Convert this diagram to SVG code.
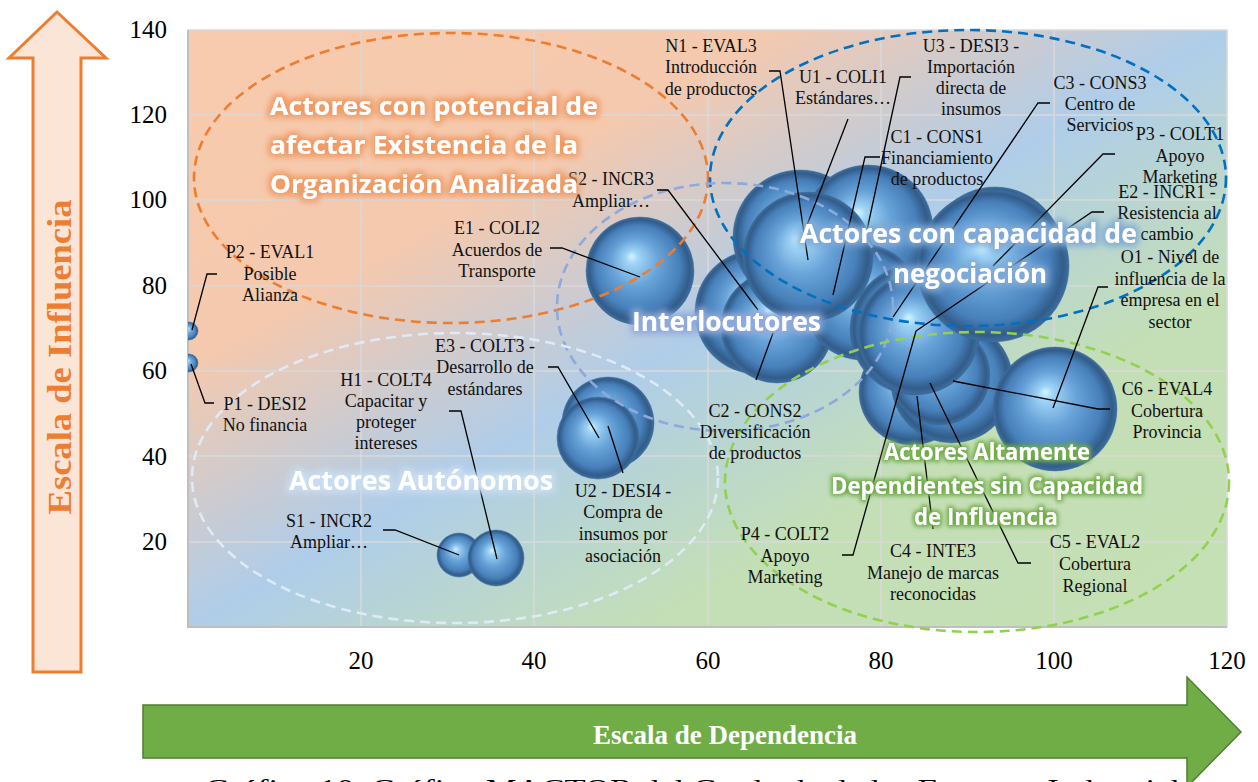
<svg xmlns="http://www.w3.org/2000/svg" width="1258" height="782" viewBox="0 0 1258 782">
<defs>
  <linearGradient id="bg" x1="0" y1="0" x2="1" y2="1">
    <stop offset="0" stop-color="#F8CBAD"/>
    <stop offset="0.28" stop-color="#F5C9AE"/>
    <stop offset="0.5" stop-color="#AFCDE9"/>
    <stop offset="0.72" stop-color="#C4DFB6"/>
    <stop offset="1" stop-color="#C5E0B4"/>
  </linearGradient>
  <radialGradient id="sph" cx="0.5" cy="0.5" r="0.5" fx="0.42" fy="0.36">
    <stop offset="0" stop-color="#D2F5FF"/>
    <stop offset="0.12" stop-color="#9FD4F6"/>
    <stop offset="0.45" stop-color="#66A1D7"/>
    <stop offset="0.78" stop-color="#4780BA"/>
    <stop offset="0.93" stop-color="#325C8A"/>
    <stop offset="1" stop-color="#3D6E9E"/>
  </radialGradient>
  <clipPath id="plot"><rect x="188" y="30" width="1039" height="597"/></clipPath>
  <filter id="glowO" x="-20%" y="-50%" width="140%" height="200%">
    <feMorphology in="SourceAlpha" operator="dilate" radius="2.5" result="d"/>
    <feGaussianBlur in="d" stdDeviation="3" result="b"/>
    <feFlood flood-color="#F09A62"/>
    <feComposite in2="b" operator="in" result="g"/>
    <feMerge><feMergeNode in="g"/><feMergeNode in="SourceGraphic"/></feMerge>
  </filter>
  <filter id="glowB" x="-20%" y="-50%" width="140%" height="200%">
    <feMorphology in="SourceAlpha" operator="dilate" radius="2.5" result="d"/>
    <feGaussianBlur in="d" stdDeviation="3.5" result="b"/>
    <feFlood flood-color="#7FA9D6"/>
    <feComposite in2="b" operator="in" result="g"/>
    <feMerge><feMergeNode in="g"/><feMergeNode in="SourceGraphic"/></feMerge>
  </filter>
  <filter id="glowL" x="-20%" y="-50%" width="140%" height="200%">
    <feMorphology in="SourceAlpha" operator="dilate" radius="2.5" result="d"/>
    <feGaussianBlur in="d" stdDeviation="3" result="b"/>
    <feFlood flood-color="#8EA9DB"/>
    <feComposite in2="b" operator="in" result="g"/>
    <feMerge><feMergeNode in="g"/><feMergeNode in="SourceGraphic"/></feMerge>
  </filter>
  <filter id="glowW" x="-20%" y="-50%" width="140%" height="200%">
    <feMorphology in="SourceAlpha" operator="dilate" radius="2.5" result="d"/>
    <feGaussianBlur in="d" stdDeviation="3" result="b"/>
    <feFlood flood-color="#C9DDF0"/>
    <feComposite in2="b" operator="in" result="g"/>
    <feMerge><feMergeNode in="g"/><feMergeNode in="SourceGraphic"/></feMerge>
  </filter>
  <filter id="glowG" x="-20%" y="-50%" width="140%" height="200%">
    <feMorphology in="SourceAlpha" operator="dilate" radius="2" result="d"/>
    <feGaussianBlur in="d" stdDeviation="2" result="b"/>
    <feFlood flood-color="#70AD47"/>
    <feComposite in2="b" operator="in" result="g"/>
    <feMerge><feMergeNode in="g"/><feMergeNode in="SourceGraphic"/></feMerge>
  </filter>
</defs>
<style>
  .grid{stroke:#D9D9D9;stroke-width:1.5;fill:none}
  .axis{stroke:#BFBFBF;stroke-width:2;fill:none}
  .tick{font-family:"Liberation Serif","Times New Roman",serif;font-size:25px;fill:#000}
  .lbl{font-family:"Liberation Serif","Times New Roman",serif;font-size:18px;fill:#111;text-anchor:middle}
  .b{fill:url(#sph);stroke:#3A6A9A;stroke-width:0.8;stroke-opacity:0.6}
  .lead{fill:none;stroke:#000;stroke-width:1.3}
  .ell{fill:none;stroke-width:2.6;stroke-dasharray:10 6}
  .big{font-family:"Open Sans","Noto Sans","Liberation Sans",sans-serif;font-weight:bold;fill:#fff}
  .serifb{font-family:"Liberation Serif","Times New Roman",serif;font-weight:bold}
  .cap{font-family:"Liberation Serif","Times New Roman",serif;font-size:26px;fill:#000}
</style>

<!-- plot background -->
<rect x="188" y="30" width="1039" height="597" fill="url(#bg)"/>
<g id="grid">
  <path class="grid" d="M361 30V627M534 30V627M708 30V627M881 30V627M1054 30V627"/>
  <path class="grid" d="M188 115H1227M188 200H1227M188 286H1227M188 371H1227M188 456H1227M188 542H1227"/>
  <path class="grid" d="M188 30H1227V627"/>
  <path class="axis" d="M188 30V627H1227"/>
</g>
<g id="ticks" class="tick">
  <g text-anchor="end">
    <text x="167" y="38">140</text><text x="167" y="123">120</text><text x="167" y="208">100</text>
    <text x="167" y="294">80</text><text x="167" y="379">60</text><text x="167" y="465">40</text><text x="167" y="550">20</text>
  </g>
  <g text-anchor="middle">
    <text x="361" y="669">20</text><text x="534" y="669">40</text><text x="708" y="669">60</text>
    <text x="881" y="669">80</text><text x="1054" y="669">100</text><text x="1227" y="669">120</text>
  </g>
</g>

<!-- bubbles -->
<g id="bubbles" clip-path="url(#plot)">
  <g id="node-P2"><circle class="b" cx="189" cy="331" r="9"/></g>
  <g id="node-P1"><circle class="b" cx="189" cy="363" r="9"/></g>
  <g id="node-S1"><circle class="b" cx="459" cy="555" r="22"/></g>
  <g id="node-H1"><circle class="b" cx="496" cy="558" r="28"/></g>
  <g id="node-E3"><circle class="b" cx="608" cy="423" r="46"/></g>
  <g id="node-U2"><circle class="b" cx="598" cy="438" r="41"/></g>
  <g id="node-E1"><circle class="b" cx="640" cy="271" r="54"/></g>
  <g id="node-S2"><circle class="b" cx="757" cy="312" r="62"/></g>
  <g id="node-C2"><circle class="b" cx="777" cy="327" r="56"/></g>
  <g id="node-U1"><circle class="b" cx="800" cy="237" r="67"/></g>
  <g id="node-U3"><circle class="b" cx="868" cy="230" r="65"/></g>
  <g id="node-C1"><circle class="b" cx="862" cy="302" r="58"/></g>
  <g id="node-N1"><circle class="b" cx="808" cy="257" r="65"/></g>
  <g id="node-C4"><circle class="b" cx="912" cy="392" r="53"/></g>
  <g id="node-C5"><circle class="b" cx="952" cy="382" r="61"/></g>
  <g id="node-O1"><circle class="b" cx="1055" cy="409" r="62"/></g>
  <g id="node-C6"><circle class="b" cx="940" cy="375" r="50"/></g>
  <g id="node-E2"><circle class="b" cx="995" cy="255" r="68"/></g>
  <g id="node-C3"><circle class="b" cx="915" cy="330" r="65"/></g>
  <g id="node-P4"><circle class="b" cx="918" cy="334" r="60"/></g>
  <g id="node-P3"><circle class="b" cx="993" cy="266" r="76"/></g>
</g>

<!-- group ellipses -->
<g id="zones">
  <ellipse class="ell" cx="451" cy="178" rx="257" ry="145" stroke="#ED7D31"/>
  <ellipse class="ell" cx="968" cy="178" rx="258" ry="148" stroke="#0070C0"/>
  <ellipse class="ell" cx="725" cy="307" rx="168" ry="124" stroke="#8EA9DB"/>
  <ellipse class="ell" cx="455" cy="478" rx="263" ry="145" stroke="#DEEBF7"/>
  <ellipse class="ell" cx="977" cy="482" rx="252" ry="150" stroke="#92D050"/>
</g>

<!-- leader lines -->
<g id="connectors" class="lead">
  <polyline points="217,274 207,274 192,330"/>
  <polyline points="191,364 205,403 214,403"/>
  <polyline points="550,248 562,248 640,277"/>
  <polyline points="657,190 668,190 758,310"/>
  <polyline points="769,71 780,71 808,260"/>
  <polyline points="848,119 802,238"/>
  <polyline points="911,77 900,77 867,230"/>
  <polyline points="880,157 865,157 833,295"/>
  <polyline points="1050,103 1038,103 893,317"/>
  <polyline points="1115,154 1103,154 993,266"/>
  <polyline points="1104,212 1092,212 916,331"/>
  <polyline points="1108,287 1098,287 1053,408"/>
  <polyline points="1110,409 1098,409 953,381"/>
  <polyline points="1031,563 1018,563 930,383"/>
  <polyline points="933,529 917,396"/>
  <polyline points="842,555 853,555 916,331"/>
  <polyline points="756,380 773,333"/>
  <polyline points="548,367 558,367 599,438"/>
  <polyline points="449,411 461,411 497,559"/>
  <polyline points="623,473 608,426"/>
  <polyline points="383,530 395,530 459,555"/>
</g>

<!-- data labels -->
<g id="labels" class="lbl">
  <g id="label-P2"><text x="270" y="258">P2 - EVAL1</text><text x="270" y="280">Posible</text><text x="270" y="301">Alianza</text></g>
  <g id="label-P1"><text x="265" y="410">P1 - DESI2</text><text x="265" y="431">No financia</text></g>
  <g id="label-E1"><text x="497" y="234">E1 - COLI2</text><text x="497" y="256">Acuerdos de</text><text x="497" y="277">Transporte</text></g>
  <g id="label-S2"><text x="611" y="185">S2 - INCR3</text><text x="611" y="207">Ampliar…</text></g>
  <g id="label-N1"><text x="711" y="52">N1 - EVAL3</text><text x="711" y="73">Introducción</text><text x="711" y="95">de productos</text></g>
  <g id="label-U1"><text x="843" y="83">U1 - COLI1</text><text x="843" y="104">Estándares…</text></g>
  <g id="label-U3"><text x="971" y="52">U3 - DESI3 -</text><text x="971" y="73">Importación</text><text x="971" y="94">directa de</text><text x="971" y="115">insumos</text></g>
  <g id="label-C1"><text x="937" y="143">C1 - CONS1</text><text x="937" y="164">Financiamiento</text><text x="937" y="185">de productos</text></g>
  <g id="label-C3"><text x="1100" y="89">C3 - CONS3</text><text x="1100" y="110">Centro de</text><text x="1100" y="131">Servicios</text></g>
  <g id="label-P3"><text x="1180" y="140">P3 - COLT1</text><text x="1180" y="162">Apoyo</text><text x="1180" y="183">Marketing</text></g>
  <g id="label-E2"><text x="1167" y="198">E2 - INCR1 -</text><text x="1167" y="219">Resistencia al</text><text x="1167" y="240">cambio</text></g>
  <g id="label-O1"><text x="1170" y="263">O1 - Nivel de</text><text x="1170" y="285">influencia de la</text><text x="1170" y="306">empresa en el</text><text x="1170" y="328">sector</text></g>
  <g id="label-C6"><text x="1167" y="395">C6 - EVAL4</text><text x="1167" y="417">Cobertura</text><text x="1167" y="438">Provincia</text></g>
  <g id="label-C5"><text x="1095" y="548">C5 - EVAL2</text><text x="1095" y="570">Cobertura</text><text x="1095" y="592">Regional</text></g>
  <g id="label-C4"><text x="933" y="557">C4 - INTE3</text><text x="933" y="579">Manejo de marcas</text><text x="933" y="600">reconocidas</text></g>
  <g id="label-P4"><text x="785" y="540">P4 - COLT2</text><text x="785" y="562">Apoyo</text><text x="785" y="583">Marketing</text></g>
  <g id="label-C2"><text x="755" y="417">C2 - CONS2</text><text x="755" y="438">Diversificación</text><text x="755" y="459">de productos</text></g>
  <g id="label-E3"><text x="485" y="352">E3 - COLT3 -</text><text x="485" y="373">Desarrollo de</text><text x="485" y="395">estándares</text></g>
  <g id="label-H1"><text x="386" y="386">H1 - COLT4</text><text x="386" y="407">Capacitar y</text><text x="386" y="428">proteger</text><text x="386" y="449">intereses</text></g>
  <g id="label-U2"><text x="623" y="497">U2 - DESI4 -</text><text x="623" y="518">Compra de</text><text x="623" y="540">insumos por</text><text x="623" y="562">asociación</text></g>
  <g id="label-S1"><text x="329" y="527">S1 - INCR2</text><text x="329" y="548">Ampliar…</text></g>
</g>

<!-- zone titles -->
<g id="zone-titles" class="big">
  <g filter="url(#glowO)" font-size="25">
    <text x="270" y="115" textLength="328" lengthAdjust="spacingAndGlyphs">Actores con potencial de</text>
    <text x="270" y="154" textLength="308" lengthAdjust="spacingAndGlyphs">afectar Existencia de la</text>
    <text x="270" y="193" textLength="308" lengthAdjust="spacingAndGlyphs">Organización Analizada</text>
  </g>
  <g filter="url(#glowB)" font-size="26">
    <text x="800" y="243" textLength="337" lengthAdjust="spacingAndGlyphs">Actores con capacidad de</text>
    <text x="893" y="283" textLength="154" lengthAdjust="spacingAndGlyphs">negociación</text>
  </g>
  <g filter="url(#glowL)" font-size="26">
    <text x="632" y="331" textLength="189" lengthAdjust="spacingAndGlyphs">Interlocutores</text>
  </g>
  <g filter="url(#glowW)" font-size="26">
    <text x="289" y="490" textLength="264" lengthAdjust="spacingAndGlyphs">Actores Autónomos</text>
  </g>
  <g filter="url(#glowG)" font-size="23">
    <text x="884" y="460" textLength="206" lengthAdjust="spacingAndGlyphs">Actores Altamente</text>
    <text x="831" y="494" textLength="312" lengthAdjust="spacingAndGlyphs">Dependientes sin Capacidad</text>
    <text x="914" y="525" textLength="144" lengthAdjust="spacingAndGlyphs">de Influencia</text>
  </g>
</g>

<!-- axis arrows -->
<g id="arrow-influencia">
  <polygon points="57,12 106,58 81,58 81,672 33,672 33,58 9,58" fill="#FBE5D6" stroke="#ED7D31" stroke-width="3" stroke-linejoin="miter"/>
  <text class="serifb" transform="translate(71,357) rotate(-90)" text-anchor="middle" font-size="34" fill="#ED7D31" textLength="315" lengthAdjust="spacingAndGlyphs">Escala de Influencia</text>
</g>
<g id="arrow-dependencia">
  <polygon points="143,705 1187,705 1187,677 1241,732 1187,787 1187,758 143,758" fill="#70AD47" stroke="#507E32" stroke-width="1.5"/>
  <text class="serifb" x="725" y="744" text-anchor="middle" font-size="27" fill="#fff">Escala de Dependencia</text>
</g>
<text id="caption" class="cap" x="205" y="797" textLength="975" lengthAdjust="spacingAndGlyphs">Gráfico 10. Gráfico MACTOR del Grado de de las Empresa Industrial</text>
</svg>
